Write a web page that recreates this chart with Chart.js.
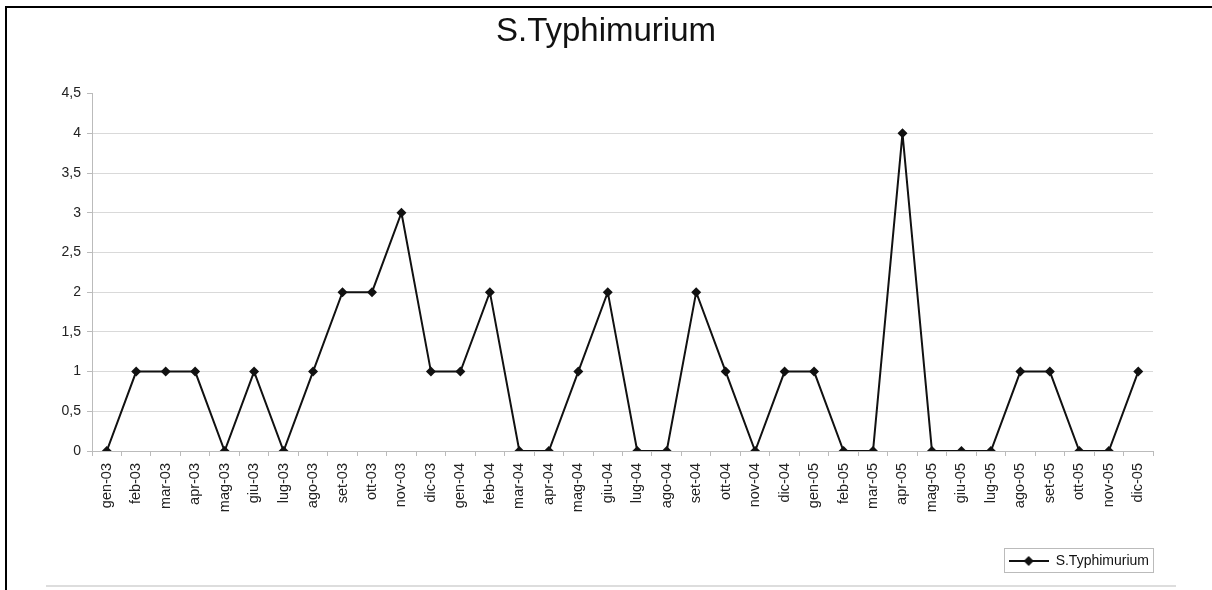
<!DOCTYPE html>
<html>
<head>
<meta charset="utf-8">
<script src="https://cdn.jsdelivr.net/npm/chart.js@4/dist/chart.umd.min.js"></script>
<style>
  html, body { margin: 0; padding: 0; background: #fff; }
  #wrap { position: relative; width: 1212px; height: 590px; }
  #frameTop { position: absolute; left: 5px; top: 6px; width: 1207px; height: 2px; background: #000; }
  #frameLeft { position: absolute; left: 5px; top: 6px; width: 2px; height: 584px; background: #000; }
  #frameBottom { position: absolute; left: 46px; top: 585px; width: 1130px; height: 2px; background: #ddd; }
</style>
</head>
<body>
<div id="wrap">
  <canvas id="chart" width="1212" height="590"></canvas>
  <div id="frameTop"></div>
  <div id="frameLeft"></div>
  <div id="frameBottom"></div>
</div>
<script>
const months = ['gen', 'feb', 'mar', 'apr', 'mag', 'giu', 'lug', 'ago', 'set', 'ott', 'nov', 'dic'];
const years = ['03', '04', '05'];
const labels = years.flatMap(y => months.map(m => m + '-' + y));

const seriesName = 'S.Typhimurium';
const values2003 = [0, 1, 1, 1, 0, 1, 0, 1, 2, 2, 3, 1];
const values2004 = [1, 2, 0, 0, 1, 2, 0, 0, 2, 1, 0, 1];
const values2005 = [1, 0, 0, 4, 0, 0, 0, 1, 1, 0, 0, 1];
const values = [...values2003, ...values2004, ...values2005];

const yTicks = [0, 0.5, 1, 1.5, 2, 2.5, 3, 3.5, 4, 4.5];

const fmt = v => String(v).replace('.', ',');

// legend marker: line with a diamond in the middle
function legendMarker() {
  const c = document.createElement('canvas');
  c.width = 40; c.height = 12;
  const ctx = c.getContext('2d');
  ctx.strokeStyle = '#111';
  ctx.lineWidth = 2;
  ctx.beginPath(); ctx.moveTo(0, 6); ctx.lineTo(40, 6); ctx.stroke();
  ctx.fillStyle = '#111';
  ctx.beginPath();
  ctx.moveTo(20, 1); ctx.lineTo(25, 6); ctx.lineTo(20, 11); ctx.lineTo(15, 6);
  ctx.closePath(); ctx.fill();
  return c;
}

const legendBox = {
  id: 'legendBox',
  afterDraw(chart) {
    const hb = chart.legend && chart.legend.legendHitBoxes && chart.legend.legendHitBoxes[0];
    if (!hb) return;
    const ctx = chart.ctx;
    ctx.save();
    ctx.strokeStyle = '#bbb';
    ctx.lineWidth = 1;
    ctx.strokeRect(Math.round(hb.left) - 4.5, Math.round(hb.top) - 5.5, Math.round(hb.width) + 9, Math.round(hb.height) + 10);
    ctx.restore();
  }
};

Chart.defaults.font.family = '"Liberation Sans", Arial, sans-serif';
Chart.defaults.color = '#222';

new Chart(document.getElementById('chart'), {
  type: 'line',
  data: {
    labels,
    datasets: [{
      label: seriesName,
      data: values,
      borderColor: '#111',
      backgroundColor: '#111',
      borderWidth: 2,
      tension: 0,
      pointStyle: 'rectRot',
      pointRadius: 5,
      pointHoverRadius: 5,
      pointBackgroundColor: '#111',
      pointBorderColor: '#111',
      pointBorderWidth: 0,
    }],
  },
  options: {
    responsive: false,
    animation: false,
    layout: { padding: { left: 0, right: 0, top: 0, bottom: 12 } },
    plugins: {
      title: {
        display: true,
        text: seriesName,
        color: '#111',
        font: { size: 33, weight: 'normal' },
        padding: { top: 12, bottom: 42 },
      },
      legend: {
        position: 'bottom',
        align: 'end',
        fullSize: false,
        labels: {
          usePointStyle: true,
          pointStyle: legendMarker(),
          pointStyleWidth: 40,
          padding: 4,
          color: '#111',
          font: { size: 14 },
        },
      },
      tooltip: { enabled: false },
    },
    scales: {
      x: {
        offset: true,
        grid: {
          offset: true,
          drawOnChartArea: false,
          tickLength: 5,
          tickColor: '#bbb',
        },
        border: { color: '#bbb' },
        ticks: {
          autoSkip: false,
          minRotation: 90,
          maxRotation: 90,
          padding: 7,
          font: { size: 14.5 },
        },
        afterFit: s => { s.height = 99; },
      },
      y: {
        min: 0,
        max: 4.5,
        afterBuildTicks: s => { s.ticks = yTicks.map(v => ({ value: v })); },
        grid: {
          color: ctx => (ctx.tick && ctx.tick.value === 4.5) ? 'rgba(0,0,0,0)' : '#d9d9d9',
          tickColor: '#bbb',
          tickLength: 5,
        },
        border: { color: '#bbb' },
        ticks: {
          padding: 6,
          font: { size: 14 },
          callback: v => fmt(v),
        },
        afterFit: s => { s.width = 92; },
      },
      // empty right-hand axis, only reserves the margin on the right
      yRight: {
        position: 'right',
        display: true,
        grid: { display: false },
        border: { display: false },
        ticks: { display: false },
        afterFit: s => { s.width = 59; },
      },
    },
  },
  plugins: [legendBox],
});
</script>
</body>
</html>
